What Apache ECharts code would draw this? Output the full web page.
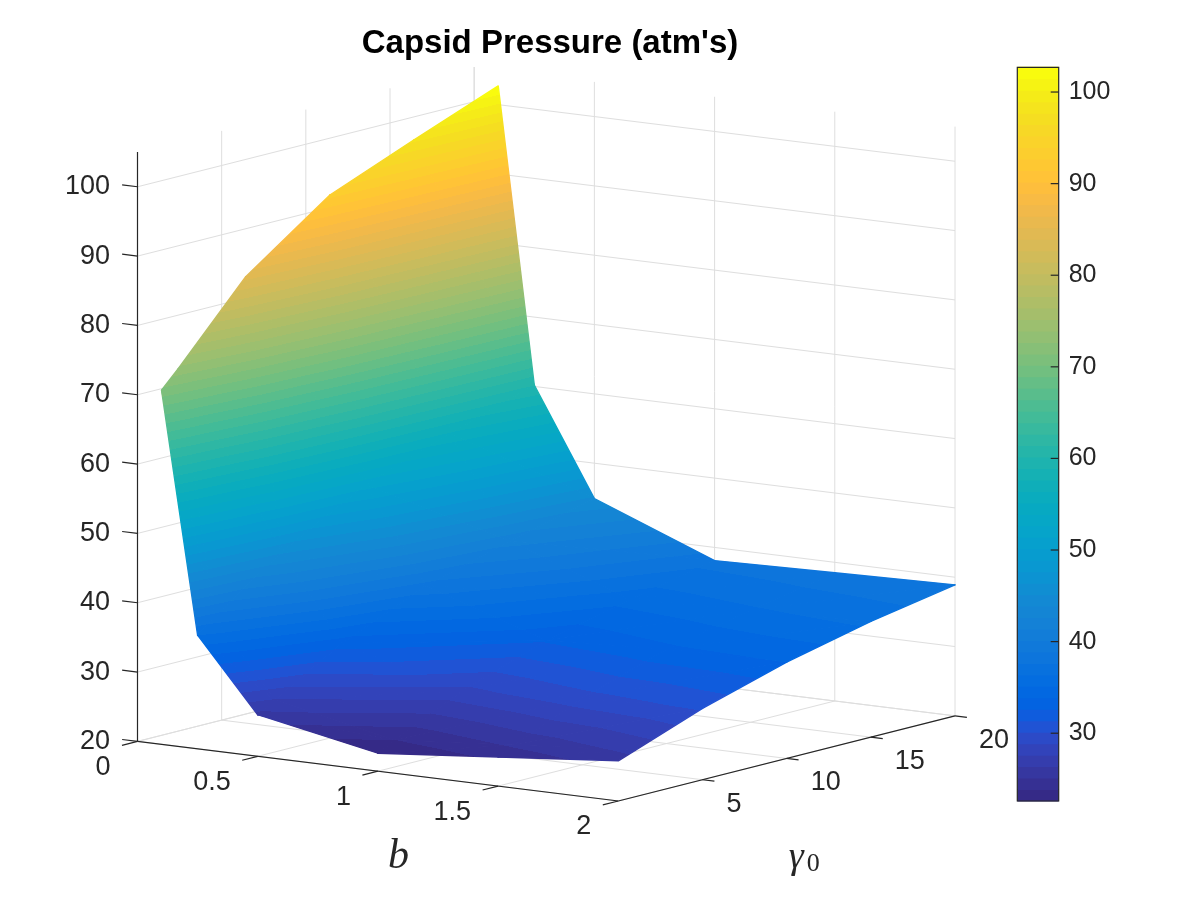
<!DOCTYPE html>
<html>
<head>
<meta charset="utf-8">
<title>Capsid Pressure</title>
<script src="https://cdn.jsdelivr.net/npm/echarts@6/dist/echarts.min.js"></script>
<style>
  html, body { margin: 0; padding: 0; background: #fff; }
  #chart { width: 1200px; height: 900px; }
</style>
</head>
<body>
<div id="chart"></div>
<script>
// surface grid: one row per b value, one column per gamma0 value
var bValues = [0.1, 0.25, 0.5, 1, 1.5, 2];
var gammaValues = [0, 1, 5, 10, 15, 20];
var pressure = [
  [71.1, 73.6, 84.4, 93.1, 98.0, 102.7],
  [36.4, 38.3, 45.4, 52.0, 56.2, 60.2],
  [26.0, 27.5, 33.2, 38.5, 41.9, 44.9],
  [22.6, 23.8, 28.5, 32.8, 35.6, 38.1],
  [24.2, 25.3, 29.6, 33.6, 36.2, 38.5],
  [25.8, 26.7, 30.3, 33.9, 36.7, 38.9]
];

var bTicks = [0, 0.5, 1, 1.5, 2];
var bTickLabels = ['0', '0.5', '1', '1.5', '2'];
var gammaTicks = [5, 10, 15, 20];
var gammaGridTicks = [0, 5, 10, 15, 20];
var zTicks = [20, 30, 40, 50, 60, 70, 80, 90, 100];
var colorbarTicks = [30, 40, 50, 60, 70, 80, 90, 100];

var bLimits = [0, 2];
var gammaLimits = [0, 20];
var zLimits = [20, 105];

var FONT = "'Liberation Sans', Arial, Helvetica, sans-serif";
var SERIF = "'Liberation Serif', 'Times New Roman', serif";
var AXIS_COLOR = '#262626';
var GRID_COLOR = '#dedede';

// parula, 64 levels
var parula = [
  [0.2081,0.1663,0.5292],[0.2116,0.1898,0.5777],[0.2123,0.2138,0.6270],[0.2081,0.2386,0.6771],
  [0.1959,0.2645,0.7279],[0.1707,0.2919,0.7792],[0.1253,0.3242,0.8303],[0.0591,0.3598,0.8683],
  [0.0117,0.3875,0.8820],[0.0060,0.4086,0.8828],[0.0165,0.4266,0.8786],[0.0329,0.4430,0.8720],
  [0.0498,0.4586,0.8641],[0.0629,0.4737,0.8554],[0.0723,0.4887,0.8467],[0.0779,0.5040,0.8384],
  [0.0793,0.5200,0.8312],[0.0749,0.5375,0.8263],[0.0641,0.5570,0.8240],[0.0488,0.5772,0.8228],
  [0.0343,0.5966,0.8199],[0.0265,0.6137,0.8135],[0.0239,0.6287,0.8038],[0.0231,0.6418,0.7913],
  [0.0228,0.6535,0.7768],[0.0267,0.6642,0.7607],[0.0384,0.6743,0.7436],[0.0590,0.6838,0.7254],
  [0.0843,0.6928,0.7062],[0.1133,0.7015,0.6859],[0.1453,0.7098,0.6646],[0.1801,0.7177,0.6424],
  [0.2178,0.7250,0.6193],[0.2586,0.7317,0.5954],[0.3022,0.7376,0.5712],[0.3482,0.7424,0.5473],
  [0.3953,0.7459,0.5244],[0.4420,0.7481,0.5033],[0.4871,0.7491,0.4840],[0.5300,0.7491,0.4661],
  [0.5709,0.7485,0.4494],[0.6099,0.7473,0.4337],[0.6473,0.7456,0.4188],[0.6834,0.7435,0.4044],
  [0.7184,0.7411,0.3905],[0.7525,0.7384,0.3768],[0.7858,0.7356,0.3633],[0.8185,0.7327,0.3498],
  [0.8507,0.7299,0.3360],[0.8824,0.7274,0.3217],[0.9139,0.7258,0.3063],[0.9450,0.7261,0.2886],
  [0.9739,0.7314,0.2666],[0.9938,0.7455,0.2403],[0.9990,0.7653,0.2164],[0.9955,0.7861,0.1967],
  [0.9880,0.8066,0.1794],[0.9789,0.8271,0.1633],[0.9697,0.8481,0.1475],[0.9626,0.8705,0.1309],
  [0.9589,0.8949,0.1132],[0.9598,0.9218,0.0948],[0.9661,0.9514,0.0755],[0.9763,0.9831,0.0538]
];
var parulaCss = parula.map(function (c) {
  return 'rgb(' + Math.round(c[0] * 255) + ',' + Math.round(c[1] * 255) + ',' + Math.round(c[2] * 255) + ')';
});

// colour limits follow the data, like caxis auto
var allZ = [].concat.apply([], pressure);
var cMin = Math.min.apply(null, allZ);
var cMax = Math.max.apply(null, allZ);

// orthographic view, az/el as in matlab view()
var az = 35 * Math.PI / 180, el = 10 * Math.PI / 180;
var ca = Math.cos(az), sa = Math.sin(az), ce = Math.cos(el), se = Math.sin(el);

function norm(v, lim) { return (v - lim[0]) / (lim[1] - lim[0]); }

function project(b, g, z) {
  var x = norm(b, bLimits), y = norm(g, gammaLimits), h = norm(z, zLimits);
  return [ca * x + sa * y, -se * sa * x + se * ca * y + ce * h];
}

function depth(b, g, z) {
  var x = norm(b, bLimits), y = norm(g, gammaLimits), h = norm(z, zLimits);
  return ce * sa * x - ce * ca * y + se * h;
}

var uMin = Infinity, uMax = -Infinity, vMin = Infinity, vMax = -Infinity;
[0, 1].forEach(function (i) {
  [0, 1].forEach(function (j) {
    [0, 1].forEach(function (k) {
      var p = project(bLimits[i], gammaLimits[j], zLimits[k]);
      uMin = Math.min(uMin, p[0]); uMax = Math.max(uMax, p[0]);
      vMin = Math.min(vMin, p[1]); vMax = Math.max(vMax, p[1]);
    });
  });
});

// triangles, far ones first
var triangles = [];
for (var i = 0; i < bValues.length - 1; i++) {
  for (var j = 0; j < gammaValues.length - 1; j++) {
    var A = [bValues[i], gammaValues[j], pressure[i][j]];
    var B = [bValues[i + 1], gammaValues[j], pressure[i + 1][j]];
    var C = [bValues[i + 1], gammaValues[j + 1], pressure[i + 1][j + 1]];
    var D = [bValues[i], gammaValues[j + 1], pressure[i][j + 1]];
    triangles.push([A, B, C], [A, C, D]);
  }
}
function centroid(t) {
  return [0, 1, 2].map(function (d) { return (t[0][d] + t[1][d] + t[2][d]) / 3; });
}
triangles.sort(function (p, q) {
  var a = centroid(p), b = centroid(q);
  return depth(a[0], a[1], a[2]) - depth(b[0], b[1], b[2]);
});

function colorIndex(z) {
  var k = Math.floor((z - cMin) / (cMax - cMin) * parula.length);
  return Math.max(0, Math.min(parula.length - 1, k));
}

// banded fill following z across a triangle in screen space
function bandFill(pts, zs) {
  var lo = Math.min(zs[0], zs[1], zs[2]), hi = Math.max(zs[0], zs[1], zs[2]);
  var e1x = pts[1][0] - pts[0][0], e1y = pts[1][1] - pts[0][1];
  var e2x = pts[2][0] - pts[0][0], e2y = pts[2][1] - pts[0][1];
  var dz1 = zs[1] - zs[0], dz2 = zs[2] - zs[0];
  var det = e1x * e2y - e1y * e2x;
  if (Math.abs(det) < 1e-6 || hi - lo < 1e-6) return parulaCss[colorIndex((lo + hi) / 2)];
  var a = (dz1 * e2y - dz2 * e1y) / det;
  var c = (e1x * dz2 - e2x * dz1) / det;
  var n2 = a * a + c * c;
  var sx = pts[0][0] + (lo - zs[0]) * a / n2, sy = pts[0][1] + (lo - zs[0]) * c / n2;
  var ex = pts[0][0] + (hi - zs[0]) * a / n2, ey = pts[0][1] + (hi - zs[0]) * c / n2;
  var w = (cMax - cMin) / parula.length;
  var stops = [];
  for (var k = colorIndex(lo); k <= colorIndex(hi); k++) {
    var s = Math.max(lo, cMin + k * w), e = Math.min(hi, cMin + (k + 1) * w);
    if (k === parula.length - 1) e = hi;
    stops.push({ offset: (s - lo) / (hi - lo), color: parulaCss[k] });
    stops.push({ offset: Math.min(1, (e - lo) / (hi - lo)), color: parulaCss[k] });
  }
  return new echarts.graphic.LinearGradient(sx, sy, ex, ey, stops, true);
}

// light grid on the floor and the two back walls
var wallSegments = [];
bTicks.forEach(function (b) {
  wallSegments.push([[b, gammaLimits[0], zLimits[0]], [b, gammaLimits[1], zLimits[0]]]);
  wallSegments.push([[b, gammaLimits[1], zLimits[0]], [b, gammaLimits[1], zLimits[1]]]);
});
gammaGridTicks.forEach(function (g) {
  wallSegments.push([[bLimits[0], g, zLimits[0]], [bLimits[1], g, zLimits[0]]]);
  wallSegments.push([[bLimits[0], g, zLimits[0]], [bLimits[0], g, zLimits[1]]]);
});
zTicks.forEach(function (z) {
  wallSegments.push([[bLimits[0], gammaLimits[0], z], [bLimits[0], gammaLimits[1], z]]);
  wallSegments.push([[bLimits[0], gammaLimits[1], z], [bLimits[1], gammaLimits[1], z]]);
});

// axis lines, ticks, tick labels and axis titles
var axisItems = [
  { kind: 'line', from: [bLimits[0], gammaLimits[0], zLimits[0]], to: [bLimits[1], gammaLimits[0], zLimits[0]] },
  { kind: 'line', from: [bLimits[1], gammaLimits[0], zLimits[0]], to: [bLimits[1], gammaLimits[1], zLimits[0]] },
  { kind: 'line', from: [bLimits[0], gammaLimits[0], zLimits[0]], to: [bLimits[0], gammaLimits[0], zLimits[1]] }
];
bTicks.forEach(function (b, n) {
  axisItems.push({ kind: 'tick', at: [b, gammaLimits[0], zLimits[0]], dir: [0, -1, 0], len: 16,
    label: bTickLabels[n], align: 'right', dx: -27, dy: 26 });
});
gammaTicks.forEach(function (g) {
  axisItems.push({ kind: 'tick', at: [bLimits[1], g, zLimits[0]], dir: [1, 0, 0], len: 12,
    label: String(g), align: 'left', dx: 24, dy: 24.5 });
});
zTicks.forEach(function (z) {
  axisItems.push({ kind: 'tick', at: [bLimits[0], gammaLimits[0], z], dir: [-1, 0, 0], len: 15.5,
    label: String(z), align: 'right', dx: -27.5, dy: 0 });
});
axisItems.push({ kind: 'title', at: [(bLimits[0] + bLimits[1]) / 2, gammaLimits[0], zLimits[0]],
  parts: [{ text: 'b', dx: 20.5, dy: 86, size: 42, italic: true }] });
axisItems.push({ kind: 'title', at: [bLimits[1], (gammaLimits[0] + gammaLimits[1]) / 2, zLimits[0]],
  parts: [{ text: 'γ', dx: 9.5, dy: 100, size: 38, italic: true },
          { text: '0', dx: 26.5, dy: 106, size: 26, italic: false }] });

function px(api, p) { return api.coord(project(p[0], p[1], p[2])); }

function renderWall(params, api) {
  var s = wallSegments[params.dataIndex];
  var p = px(api, s[0]), q = px(api, s[1]);
  return { type: 'line', shape: { x1: p[0], y1: p[1], x2: q[0], y2: q[1] },
    style: { stroke: GRID_COLOR, lineWidth: 1 } };
}

function renderSurface(params, api) {
  var t = triangles[params.dataIndex];
  var pts = t.map(function (p) { return px(api, p); });
  var fill = bandFill(pts, t.map(function (p) { return p[2]; }));
  return { type: 'polygon', shape: { points: pts },
    style: { fill: fill, stroke: fill, lineWidth: 1.4, lineJoin: 'round' } };
}

function renderAxis(params, api) {
  var it = axisItems[params.dataIndex];
  if (it.kind === 'line') {
    var p = px(api, it.from), q = px(api, it.to);
    return { type: 'line', shape: { x1: p[0], y1: p[1], x2: q[0], y2: q[1] },
      style: { stroke: AXIS_COLOR, lineWidth: 1.2 } };
  }
  var o = px(api, it.at);
  if (it.kind === 'title') {
    return { type: 'group', children: it.parts.map(function (part) {
      return { type: 'text', x: o[0] + part.dx, y: o[1] + part.dy,
        style: { text: part.text, align: 'center', verticalAlign: 'middle', fill: AXIS_COLOR,
          fontSize: part.size, fontFamily: SERIF, fontStyle: part.italic ? 'italic' : 'normal' } };
    }) };
  }
  var step = px(api, [it.at[0] + it.dir[0] * 0.01, it.at[1] + it.dir[1] * 0.1, it.at[2] + it.dir[2] * 0.1]);
  var vx = step[0] - o[0], vy = step[1] - o[1], l = Math.sqrt(vx * vx + vy * vy);
  return { type: 'group', children: [
    { type: 'line', shape: { x1: o[0], y1: o[1], x2: o[0] + vx / l * it.len, y2: o[1] + vy / l * it.len },
      style: { stroke: AXIS_COLOR, lineWidth: 1.2 } },
    { type: 'text', x: o[0] + it.dx, y: o[1] + it.dy,
      style: { text: it.label, align: it.align, verticalAlign: 'middle', fill: AXIS_COLOR,
        fontSize: 27, fontFamily: FONT } }
  ] };
}

// colour bar: 64 bands, then the frame with its inner ticks on top
function renderBand(params, api) {
  var k = params.dataIndex;
  if (k === parula.length) {
    var tl = api.coord([0, cMax]), br = api.coord([1, cMin]);
    var children = [{ type: 'rect', shape: { x: tl[0], y: tl[1], width: br[0] - tl[0], height: br[1] - tl[1] },
      style: { fill: 'none', stroke: AXIS_COLOR, lineWidth: 1.2 } }];
    colorbarTicks.forEach(function (v) {
      var p = api.coord([1, v]);
      children.push({ type: 'line', shape: { x1: p[0] - 8, y1: p[1], x2: p[0], y2: p[1] },
        style: { stroke: AXIS_COLOR, lineWidth: 1.2 } });
    });
    return { type: 'group', children: children };
  }
  var w = (cMax - cMin) / parula.length;
  var top = api.coord([0, cMin + (k + 1) * w]), bot = api.coord([1, cMin + k * w]);
  return { type: 'rect', shape: { x: top[0], y: top[1] - 0.5, width: bot[0] - top[0], height: bot[1] - top[1] + 1 },
    style: { fill: parulaCss[k] } };
}

var chart = echarts.init(document.getElementById('chart'));

var option = {
  animation: false,
  backgroundColor: '#ffffff',
  graphic: [{
    type: 'text', x: 550, y: 44,
    style: { text: "Capsid Pressure (atm's)", align: 'center', verticalAlign: 'middle',
      fontSize: 33, fontWeight: 'bold', fontFamily: FONT, fill: '#000000' }
  }],
  grid: [
    { left: 137.5, right: 245, top: 67, bottom: 99 },
    { left: 1017.3, top: 67.3, width: 41.4, height: 733.7 }
  ],
  xAxis: [
    { gridIndex: 0, type: 'value', min: uMin, max: uMax, show: false },
    { gridIndex: 1, type: 'value', min: 0, max: 1, show: false }
  ],
  yAxis: [
    { gridIndex: 0, type: 'value', min: vMin, max: vMax, show: false },
    { gridIndex: 1, type: 'value', min: cMin, max: cMax, position: 'right',
      splitNumber: 8,
      splitLine: { show: false },
      axisLine: { show: false },
      axisTick: { show: false },
      axisLabel: { show: true, customValues: colorbarTicks, margin: 10, fontSize: 25,
        fontFamily: FONT, color: AXIS_COLOR } }
  ],
  series: [
    {
      type: 'custom', name: 'grid', xAxisIndex: 0, yAxisIndex: 0, z: 1, silent: true,
      renderItem: renderWall,
      data: wallSegments.map(function (s, n) { return project(s[0][0], s[0][1], s[0][2]).concat(n); })
    },
    {
      type: 'custom', name: 'pressure', xAxisIndex: 0, yAxisIndex: 0, z: 2, silent: true,
      renderItem: renderSurface,
      data: triangles.map(function (t, n) { var c = centroid(t); return project(c[0], c[1], c[2]).concat(n); })
    },
    {
      type: 'custom', name: 'axes', xAxisIndex: 0, yAxisIndex: 0, z: 3, silent: true,
      renderItem: renderAxis,
      data: axisItems.map(function (it, n) { return project.apply(null, it.at || it.from).concat(n); })
    },
    {
      type: 'custom', name: 'colorbar', xAxisIndex: 1, yAxisIndex: 1, z: 2, silent: true,
      renderItem: renderBand,
      data: parula.map(function (c, k) { return [0.5, cMin + (k + 0.5) * (cMax - cMin) / parula.length]; })
        .concat([[0.5, (cMin + cMax) / 2]])
    }
  ]
};

chart.setOption(option);
</script>
</body>
</html>
